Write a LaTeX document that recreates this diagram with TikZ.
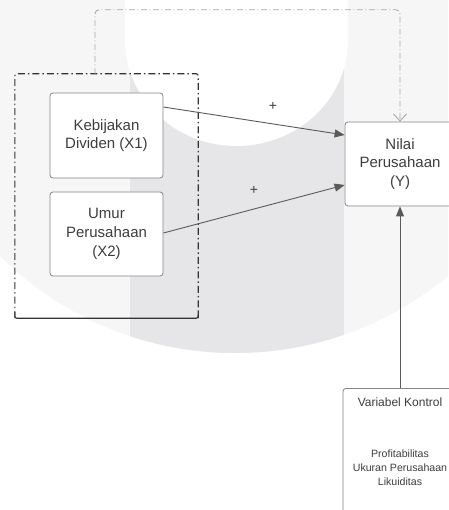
\documentclass[tikz,border=0pt]{standalone}
\usepackage{fontspec}
\setmainfont{Liberation Sans}
\usetikzlibrary{arrows.meta,calc}
\definecolor{bgl}{HTML}{F6F6F6}
\definecolor{bgd}{HTML}{E6E6E8}
\definecolor{txt}{HTML}{3E3E3E}
\definecolor{boxline}{HTML}{858585}
\definecolor{arrline}{HTML}{5A5A5A}
\definecolor{grpline}{HTML}{333333}
\definecolor{feedline}{HTML}{A8A8A8}
\tikzset{
  box/.style={draw=boxline, line width=0.8pt, fill=white, rounded corners=3pt, align=center, text=txt, inner sep=0pt,
    font=\fontsize{15}{18.7}\selectfont},
  arr/.style={draw=arrline, line width=0.9pt, -{Triangle[length=10pt,width=8pt]}},
  grpdash/.style={draw=grpline, line width=1.1pt, dash pattern=on 7pt off 3pt on 1.5pt off 3pt, rounded corners=2pt},
  feed/.style={draw=feedline, line width=0.9pt, dash pattern=on 6pt off 2.5pt on 1pt off 2.5pt, rounded corners=4pt,
    -{Straight Barb[length=7pt,width=13pt]}},
  plus/.style={text=txt, inner sep=0pt, font=\fontsize{14}{14}\selectfont},
  small/.style={text=txt, inner sep=0pt, align=center},
}
\begin{document}
\begin{tikzpicture}[x=1pt,y=-1pt]
\useasboundingbox (0,0) rectangle (448,510);
% background watermark
\begin{scope}
  \clip (0,0) rectangle (448,510);
  \fill[white] (0,0) rectangle (448,510);
  \fill[bgl] (235,20) circle (333pt);
  \begin{scope}
    \clip (235,20) circle (333pt);
    \fill[bgd] (130,0) rectangle (344,510);
  \end{scope}
  \fill[white] (125,-5) rectangle (348,40);
  \fill[white] (236.5,40) ellipse (111.5pt and 106pt);
\end{scope}

% group frame
\node[minimum width=183pt, minimum height=244pt, inner sep=0pt] (grp) at (106.5,196) {};
\draw[grpdash] (grp.south west) -- (grp.north west) -- (grp.north east) -- (grp.south east);
\draw[draw=grpline, line width=1.1pt, rounded corners=2pt] ([yshift=6pt]grp.south west) -- (grp.south west) -- (grp.south east) -- ([yshift=6pt]grp.south east);

% boxes
\node[box, minimum width=113pt, minimum height=85pt] (keb) at (106.5,135.5) {Kebijakan\\Dividen (X1)};
\node[box, minimum width=113pt, minimum height=84pt] (umur) at (106.5,234) {Umur\\Perusahaan\\(X2)};
\node[box, minimum width=110pt, minimum height=84pt] (nilai) at (400,164) {Nilai\\Perusahaan\\(Y)};
\node[box, anchor=north, minimum width=114pt, minimum height=140pt] (kontrol) at (400,388) {};
\node[small, font=\fontsize{12}{14}\selectfont] (kt) at (400,402) {Variabel Kontrol};
\node[small, font=\fontsize{10.6}{14}\selectfont] (kl) at (400,468) {Profitabilitas\\Ukuran Perusahaan\\Likuiditas};

% connectors
\draw[arr] ([yshift=28.5pt]keb.east) -- ([yshift=29pt]nilai.west);
\draw[arr] ([yshift=1pt]umur.east) -- ([yshift=-21pt]nilai.west);
\draw[arr] (kontrol.north) -- (nilai.south);
\draw[feed] ([xshift=-11.5pt]grp.north) -- ++(0,-64) -| (nilai.north);

% labels
\node[plus] (p1) at (273,106) {+};
\node[plus] (p2) at (254,190) {+};
\end{tikzpicture}
\end{document}
